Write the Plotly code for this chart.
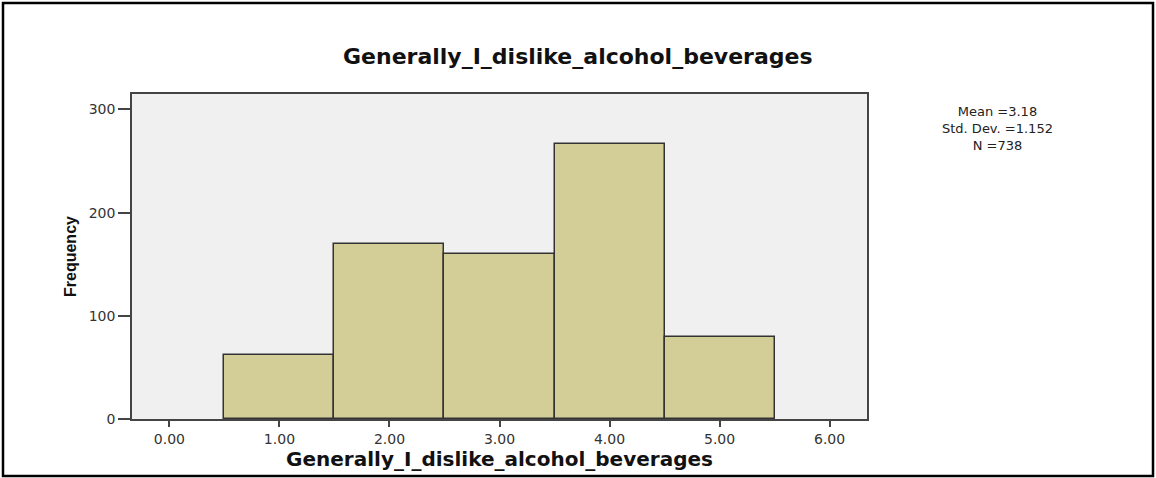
import plotly.graph_objects as go

categories = [1, 2, 3, 4, 5]
frequencies = [62, 170, 160, 267, 79]
x_tick_vals = [0, 1, 2, 3, 4, 5, 6]
x_tick_text = ["0.00", "1.00", "2.00", "3.00", "4.00", "5.00", "6.00"]
y_tick_vals = [0, 100, 200, 300]
title_text = "Generally_I_dislike_alcohol_beverages"
stats_text = "Mean =3.18<br>Std. Dev. =1.152<br>N =738"

W, H = 1156, 478
L, R, T, B = 132, 289, 94, 59
pw, ph = W - L - R, H - T - B

WIDE = "DejaVu Sans, Verdana, sans-serif"

fig = go.Figure()
fig.add_trace(go.Bar(
    x=categories, y=frequencies, width=1.0,
    marker=dict(color="#D3CE98", line=dict(color="#333333", width=1.5)),
    hoverinfo="x+y",
))

def px2paper_x(p):
    return (p - L) / pw

def px2paper_y(p):
    return (H - B - p) / ph

fig.update_layout(
    width=W, height=H,
    margin=dict(l=L, r=R, t=T, b=B),
    paper_bgcolor="white",
    plot_bgcolor="#F0F0F0",
    showlegend=False,
    font=dict(family=WIDE, color="#222222", size=12),
    xaxis=dict(
        range=[-0.34, 6.34], tickvals=x_tick_vals, ticktext=x_tick_text,
        showline=True, linecolor="#444444", linewidth=1.5, mirror=True,
        ticks="outside", ticklen=6, tickcolor="#444444", tickwidth=1.5,
        showgrid=False, zeroline=False,
        tickfont=dict(size=14, color="#333333", family=WIDE),
        title=dict(text="<b>" + title_text + "</b>",
                   font=dict(size=20, color="#111111", family=WIDE),
                   standoff=2),
    ),
    yaxis=dict(
        range=[0, 315], tickvals=y_tick_vals,
        showline=True, linecolor="#444444", linewidth=1.5, mirror=True,
        ticks="outside", ticklen=12, tickcolor="#444444", tickwidth=1.5,
        showgrid=False, zeroline=False,
        tickfont=dict(size=14, color="#333333", family=WIDE),
        title=dict(text="<b>Frequency</b>",
                   font=dict(size=16, color="#111111", family="Liberation Sans Narrow, Arial Narrow, Liberation Sans"),
                   standoff=8),
    ),
    bargap=0,
)

fig.add_annotation(
    text="<b>" + title_text + "</b>", xref="paper", yref="paper",
    x=px2paper_x(578), y=px2paper_y(56), xanchor="center", yanchor="middle",
    showarrow=False, font=dict(size=22, color="#111111", family=WIDE),
)
fig.add_annotation(
    text=stats_text, xref="paper", yref="paper",
    x=px2paper_x(997), y=px2paper_y(128), xanchor="center", yanchor="middle",
    showarrow=False, align="center",
    font=dict(size=13, color="#222222", family=WIDE),
)
fig.add_shape(
    type="rect", xref="paper", yref="paper",
    x0=px2paper_x(3), x1=px2paper_x(1153), y0=px2paper_y(476), y1=px2paper_y(3),
    line=dict(color="black", width=2.5), fillcolor="rgba(0,0,0,0)", layer="above",
)

fig.write_html(
    "out.html",
    config={"displayModeBar": False},
    post_script="document.body.style.margin='0';document.body.style.overflow='hidden';",
)
